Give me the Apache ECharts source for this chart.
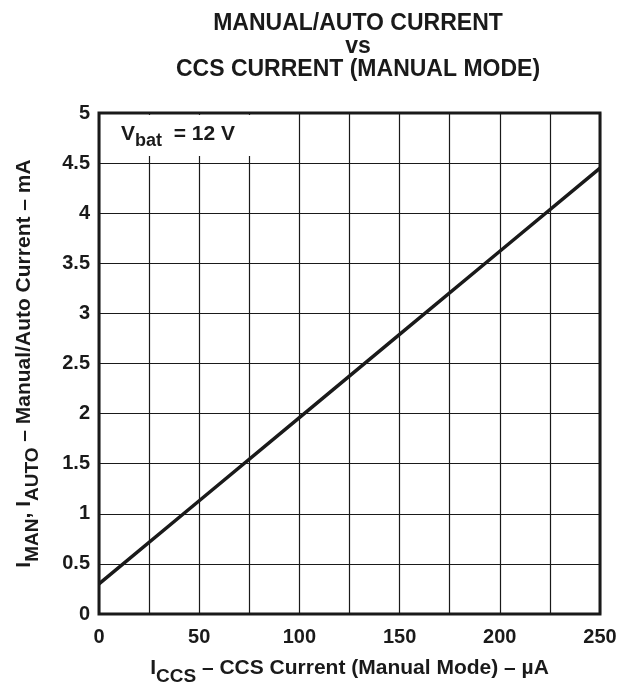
<!DOCTYPE html>
<html>
<head>
<meta charset="utf-8">
<script src="https://cdn.jsdelivr.net/npm/echarts@6/dist/echarts.min.js"></script>
<style>
html, body { margin: 0; padding: 0; background: #fff; }
#chart { width: 623px; height: 683px; }
</style>
</head>
<body>
<div id="chart"></div>
<script>
// I_CCS (uA) vs I_MAN / I_AUTO (mA), Vbat = 12 V
const ccsCurrent = [0, 50, 100, 150, 200, 250];
const manAutoCurrent = [0.3, 1.13, 1.96, 2.79, 3.62, 4.45];
const xTicks = [0, 50, 100, 150, 200, 250];
const yTicks = [0, 0.5, 1, 1.5, 2, 2.5, 3, 3.5, 4, 4.5, 5];

const font = '"Liberation Sans", Arial, Helvetica, sans-serif';
const ink = '#1a1a1a';

let chart = echarts.init(document.getElementById('chart'), null, { renderer: 'canvas' });

const nameRich = {
	m: { fontFamily: font, fontWeight: 'bold', fontSize: 21, color: ink, lineHeight: 28, verticalAlign: 'top' },
	s: { fontFamily: font, fontWeight: 'bold', fontSize: 19, color: ink, lineHeight: 28, verticalAlign: 'bottom', padding: [7, 0, 0, 0] }
};

const opt = {
	backgroundColor: '#fff',
	animation: false,
	title: {
		text: 'MANUAL/AUTO CURRENT\nvs\nCCS CURRENT (MANUAL MODE)',
		left: 353,
		top: 7,
		textAlign: 'center',
		textStyle: {
			fontFamily: font,
			fontWeight: 'bold',
			fontSize: 23,
			lineHeight: 23,
			color: ink
		}
	},
	grid: {
		left: 99,
		top: 113,
		width: 501,
		height: 501,
		outerBoundsMode: 'none',
		containLabel: false,
		show: true,
		borderColor: ink,
		borderWidth: 3,
		backgroundColor: 'transparent'
	},
	xAxis: {
		type: 'value',
		min: 0,
		max: 250,
		interval: 25,
		axisLine: { show: false },
		axisTick: { show: false },
		splitLine: { show: true, lineStyle: { color: ink, width: 1.2 } },
		axisLabel: {
			margin: 13,
			fontFamily: font,
			fontWeight: 'bold',
			fontSize: 20,
			color: ink,
			formatter: v => (xTicks.indexOf(v) >= 0 ? String(v) : '')
		},
		name: '{m|I}{s|CCS}{m| – CCS Current (Manual Mode) – µA}',
		nameLocation: 'middle',
		nameGap: 44,
		nameTextStyle: { rich: nameRich }
	},
	yAxis: {
		type: 'value',
		min: 0,
		max: 5,
		interval: 0.5,
		axisLine: { show: false },
		axisTick: { show: false },
		splitLine: { show: true, lineStyle: { color: ink, width: 1.2 } },
		axisLabel: {
			margin: 9,
			fontFamily: font,
			fontWeight: 'bold',
			fontSize: 20,
			color: ink,
			formatter: v => (yTicks.indexOf(v) >= 0 ? String(v) : '')
		},
		name: '{m|I}{s|MAN}{m|, I}{s|AUTO}{m| – Manual/Auto Current – mA}',
		nameLocation: 'middle',
		nameGap: 57,
		nameRotate: 90,
		nameTextStyle: { rich: nameRich }
	},
	graphic: [
		{
			type: 'rect',
			left: 101,
			top: 115,
			shape: { width: 155, height: 41 },
			style: { fill: '#fff' },
			z: 100
		},
		{
			type: 'text',
			left: 121,
			top: 124,
			z: 101,
			style: {
				text: '{m|V}{s|bat}{m|  = 12 V}',
				rich: {
					m: { fontFamily: font, fontWeight: 'bold', fontSize: 21, fill: ink, lineHeight: 26, verticalAlign: 'top' },
					s: { fontFamily: font, fontWeight: 'bold', fontSize: 18, fill: ink, lineHeight: 26, verticalAlign: 'bottom', padding: [7, 0, 0, 0] }
				}
			}
		}
	],
	series: [
		{
			type: 'line',
			data: ccsCurrent.map((x, i) => [x, manAutoCurrent[i]]),
			showSymbol: false,
			lineStyle: { color: ink, width: 3.5 },
			z: 5
		}
	]
};
chart.setOption(opt);
</script>
</body>
</html>
